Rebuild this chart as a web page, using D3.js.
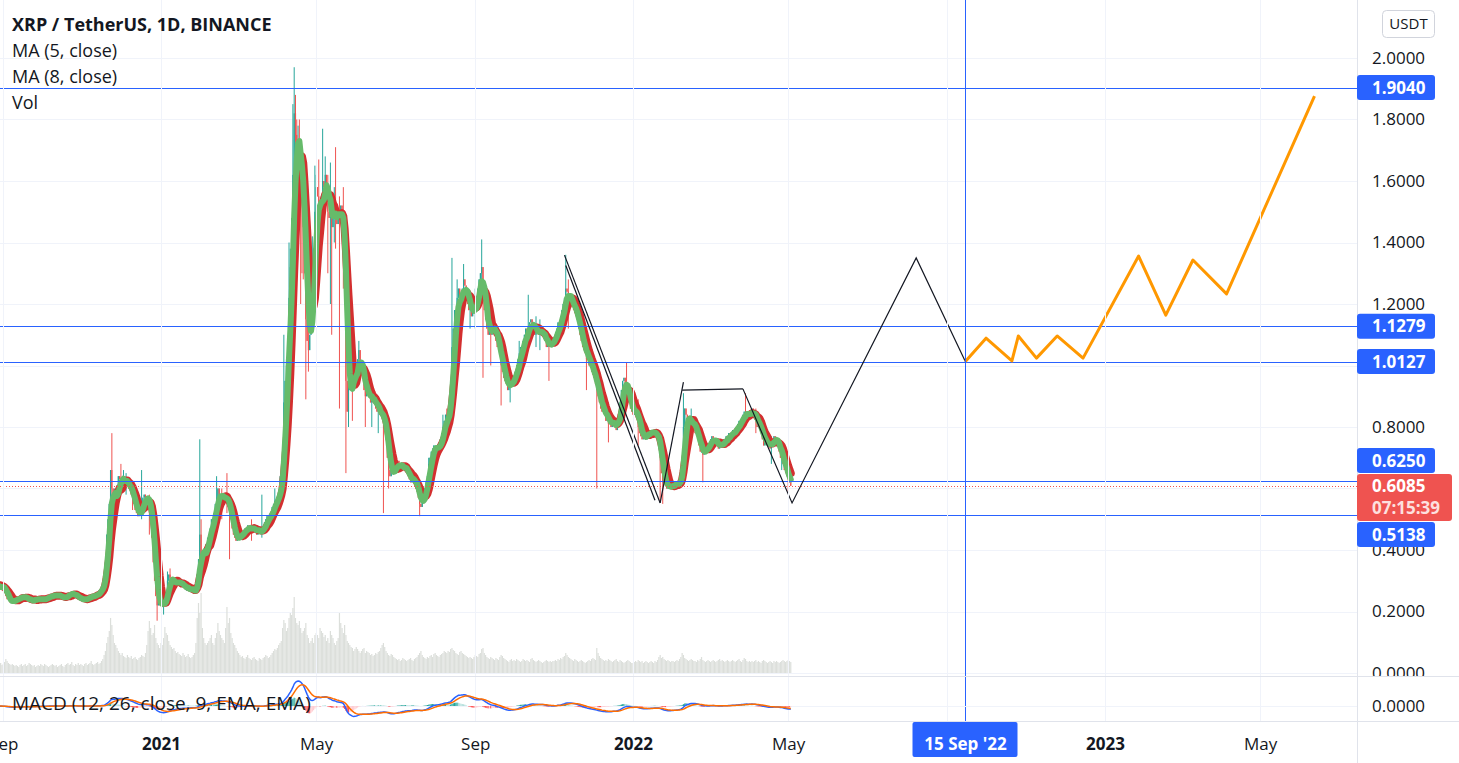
<!DOCTYPE html>
<html><head><meta charset="utf-8">
<script src="https://cdn.jsdelivr.net/npm/d3@7"></script>
<style>
body{margin:0;background:#fff;overflow:hidden}
svg{display:block}
text{font-family:"Open Sans","Noto Sans",sans-serif}
</style>
</head><body>
<svg id="c" width="1459" height="763"></svg>
<script>
// ---------------- DATA ----------------
// daily closes (USDT), each row: first date, then consecutive daily values
const closeRows = [
 ["2020-08-20",[0.29,0.29,0.28,0.29,0.30,0.29,0.28,0.28,0.28,0.28,0.28,0.28]],
 ["2020-09-01",[0.28,0.27,0.25,0.24,0.24,0.23,0.23,0.23,0.24,0.24,0.24,0.24,0.24,0.25,0.25,0.25,0.24,0.24,0.25,0.24,0.23,0.24,0.23,0.24,0.24,0.24,0.24,0.24,0.24,0.24]],
 ["2020-10-01",[0.24,0.24,0.24,0.24,0.25,0.25,0.25,0.25,0.25,0.25,0.26,0.25,0.25,0.25,0.25,0.25,0.24,0.24,0.25,0.25,0.26,0.26,0.25,0.26,0.26,0.25,0.25,0.25,0.24,0.24,0.24]],
 ["2020-11-01",[0.24,0.24,0.24,0.24,0.24,0.25,0.25,0.25,0.25,0.25,0.25,0.26,0.26,0.26,0.27,0.28,0.29,0.31,0.36,0.45,0.50,0.55,0.66,0.60,0.54,0.55,0.58,0.61,0.64,0.63]],
 ["2020-12-01",[0.62,0.63,0.64,0.61,0.62,0.62,0.60,0.60,0.58,0.57,0.55,0.53,0.52,0.51,0.52,0.52,0.54,0.57,0.58,0.57,0.56,0.56,0.55,0.50,0.44,0.36,0.30,0.25,0.22,0.23,0.22]],
 ["2021-01-01",[0.23,0.22,0.23,0.23,0.25,0.30,0.32,0.31,0.30,0.29,0.29,0.29,0.30,0.30,0.29,0.29,0.28,0.29,0.28,0.27,0.27,0.28,0.27,0.27,0.27,0.27,0.26,0.27,0.32,0.37,0.45]],
 ["2021-02-01",[0.38,0.37,0.38,0.40,0.42,0.44,0.45,0.47,0.50,0.49,0.52,0.55,0.57,0.60,0.58,0.57,0.56,0.57,0.58,0.57,0.56,0.54,0.52,0.50,0.47,0.45,0.44,0.43]],
 ["2021-03-01",[0.44,0.44,0.45,0.46,0.45,0.46,0.47,0.47,0.48,0.47,0.47,0.46,0.47,0.48,0.46,0.45,0.46,0.47,0.46,0.46,0.47,0.49,0.50,0.51,0.50,0.51,0.52,0.54,0.55,0.56,0.56]],
 ["2021-04-01",[0.57,0.59,0.61,0.64,0.70,0.88,0.95,1.00,1.08,1.22,1.32,1.45,1.62,1.82,1.75,1.70,1.72,1.66,1.62,1.55,1.45,1.30,1.15,1.08,1.05,1.10,1.18,1.30,1.38,1.50]],
 ["2021-05-01",[1.58,1.55,1.52,1.45,1.55,1.60,1.58,1.62,1.58,1.50,1.48,1.52,1.45,1.48,1.52,1.50,1.46,1.50,1.48,1.52,1.50,1.40,1.20,0.95,0.85,0.92,0.95,0.98,0.92,0.95,0.98]],
 ["2021-06-01",[1.00,1.02,1.05,1.00,0.98,0.96,0.92,0.90,0.92,0.91,0.90,0.88,0.89,0.88,0.90,0.86,0.85,0.86,0.84,0.84,0.83,0.82,0.80,0.76,0.70,0.66,0.64,0.66,0.65,0.66]],
 ["2021-07-01",[0.67,0.68,0.69,0.67,0.66,0.68,0.67,0.66,0.67,0.65,0.64,0.63,0.62,0.63,0.64,0.62,0.60,0.59,0.57,0.55,0.54,0.56,0.58,0.60,0.62,0.64,0.68,0.70,0.72,0.73,0.74]],
 ["2021-08-01",[0.74,0.73,0.72,0.74,0.76,0.78,0.80,0.82,0.84,0.82,0.84,0.86,0.95,1.06,1.12,1.18,1.18,1.22,1.25,1.20,1.22,1.25,1.28,1.26,1.22,1.20,1.18,1.20,1.16,1.18,1.17]],
 ["2021-09-01",[1.20,1.22,1.25,1.28,1.30,1.32,1.20,1.18,1.15,1.12,1.10,1.12,1.10,1.12,1.14,1.12,1.08,1.06,1.05,1.04,1.00,0.98,0.96,0.95,0.94,0.92,0.93,0.94,0.96,0.96]],
 ["2021-10-01",[0.95,0.98,1.00,1.02,1.04,1.06,1.05,1.08,1.10,1.12,1.10,1.12,1.14,1.15,1.13,1.12,1.10,1.12,1.11,1.10,1.12,1.10,1.11,1.09,1.08,1.06,1.07,1.06,1.08,1.07,1.08]],
 ["2021-11-01",[1.09,1.10,1.12,1.14,1.13,1.15,1.18,1.20,1.22,1.25,1.24,1.22,1.20,1.22,1.20,1.18,1.17,1.16,1.15,1.12,1.10,1.08,1.06,1.05,1.04,1.02,1.03,1.00,1.00,0.98]],
 ["2021-12-01",[0.97,0.96,0.94,0.92,0.90,0.88,0.86,0.85,0.86,0.84,0.82,0.83,0.81,0.82,0.80,0.81,0.83,0.80,0.79,0.82,0.84,0.88,0.92,0.95,0.96,0.94,0.92,0.90,0.88,0.86,0.85]],
 ["2022-01-01",[0.84,0.85,0.86,0.84,0.80,0.78,0.77,0.76,0.78,0.77,0.76,0.78,0.79,0.78,0.79,0.77,0.78,0.79,0.77,0.76,0.74,0.70,0.65,0.62,0.62,0.61,0.60,0.61,0.60,0.61,0.61]],
 ["2022-02-01",[0.61,0.61,0.62,0.62,0.61,0.62,0.64,0.70,0.80,0.86,0.84,0.82,0.80,0.82,0.83,0.81,0.80,0.78,0.78,0.76,0.74,0.72,0.72,0.71,0.72,0.73,0.74,0.74]],
 ["2022-03-01",[0.74,0.76,0.77,0.76,0.75,0.74,0.75,0.73,0.74,0.75,0.74,0.76,0.75,0.77,0.76,0.78,0.77,0.78,0.79,0.78,0.79,0.80,0.81,0.82,0.81,0.83,0.84,0.85,0.84,0.85,0.83]],
 ["2022-04-01",[0.84,0.85,0.86,0.84,0.83,0.82,0.80,0.81,0.80,0.78,0.76,0.74,0.75,0.76,0.74,0.74,0.73,0.75,0.76,0.77,0.76,0.75,0.74,0.72,0.70,0.71,0.68,0.66,0.65,0.64]],
 ["2022-05-01",[0.63,0.62,0.6085]]
];
// daily volume (relative units)
const volumeRows = [
 ["2020-08-20",[9,8,7,8,10,8,7,8,9,12,10,8]],
 ["2020-09-01",[9,11,14,12,10,9,8,9,8,7,8,7,6,8,9,7,8,9,7,8,10,9,8,7,8,6,7,8,7,9]],
 ["2020-10-01",[8,7,9,8,7,6,7,8,9,8,7,8,6,7,8,9,7,6,8,9,10,8,9,11,8,7,9,8,10,8,9]],
 ["2020-11-01",[8,7,9,10,8,9,10,12,9,8,9,10,11,9,10,12,14,18,22,30,36,42,55,48,38,30,28,25,22,20]],
 ["2020-12-01",[18,20,17,16,15,18,16,15,17,14,15,16,14,13,15,16,18,17,16,20,28,42,52,45,38,40,48,35,30,28,25]],
 ["2021-01-01",[30,28,35,46,40,38,32,28,26,24,25,22,20,21,19,18,17,20,18,16,17,19,16,15,16,18,20,30,55,70,60]],
 ["2021-02-01",[80,45,35,30,28,30,32,35,38,30,28,35,40,50,42,38,35,33,30,45,66,50,55,40,35,30,28,25]],
 ["2021-03-01",[22,20,18,16,17,15,14,16,18,15,14,13,15,16,14,13,12,15,14,13,15,16,18,17,15,16,18,20,22,24,23]],
 ["2021-04-01",[25,28,30,32,45,53,50,42,45,55,60,58,65,76,55,50,48,52,45,40,42,45,50,38,35,30,32,35,30,38]],
 ["2021-05-01",[40,38,35,45,42,40,36,38,32,35,30,42,38,35,30,28,32,35,60,50,45,40,48,38,32,30,28,26,25,22,24]],
 ["2021-06-01",[26,24,22,20,22,24,25,20,22,21,20,18,19,17,18,20,19,21,22,25,28,30,26,22,20,18,17,19,18,16]],
 ["2021-07-01",[15,14,13,14,12,13,15,14,13,12,13,14,15,13,12,14,15,16,18,20,22,18,16,15,14,16,15,17,18,16,19]],
 ["2021-08-01",[20,18,17,16,18,19,20,22,21,20,22,21,24,25,23,22,20,19,18,21,22,20,19,18,17,16,15,16,15,14,16]],
 ["2021-09-01",[18,17,16,19,20,24,25,20,18,16,15,14,16,15,14,13,15,14,13,16,18,17,15,14,13,12,11,13,14,12]],
 ["2021-10-01",[13,12,14,13,12,11,12,14,13,12,13,12,11,14,15,13,12,11,12,13,12,11,10,11,12,13,12,11,12,11,12]],
 ["2021-11-01",[12,13,12,14,13,15,14,16,17,20,18,16,15,14,13,12,14,13,12,11,12,13,12,11,10,11,12,13,12,14]],
 ["2021-12-01",[15,14,13,25,20,17,15,14,13,12,13,12,14,13,12,11,12,13,14,12,11,13,12,11,10,11,12,13,12,11,10]],
 ["2022-01-01",[10,11,12,11,13,12,11,12,10,11,12,11,10,11,12,11,10,12,11,13,16,18,15,16,14,13,12,13,12,11,12]],
 ["2022-02-01",[12,11,12,13,12,14,16,20,18,15,14,13,12,13,14,13,12,12,11,13,12,14,16,13,12,11,12,13]],
 ["2022-03-01",[12,11,12,13,12,11,12,13,14,12,13,12,11,12,13,12,11,12,13,12,11,12,13,14,12,11,13,15,14,12,11]],
 ["2022-04-01",[12,11,12,11,12,13,11,12,11,10,12,13,12,11,10,11,12,11,10,12,11,12,11,10,11,12,13,12,11,12]],
 ["2022-05-01",[13,12,11]]
];
// candle wicks: [date, high, low]
const wickRows = [
 ["2020-11-24",0.78,0.52],["2020-11-26",0.60,0.47],["2020-12-01",0.68,0.58],["2020-12-03",0.66,0.60],
 ["2020-12-05",0.65,0.58],["2020-12-10",0.60,0.53],["2020-12-17",0.66,0.50],["2020-12-23",0.58,0.45],
 ["2020-12-29",0.24,0.17],["2021-01-03",0.24,0.19],["2021-01-06",0.33,0.24],["2021-01-08",0.34,0.28],
 ["2021-01-31",0.76,0.36],["2021-02-01",0.50,0.35],["2021-02-13",0.64,0.53],["2021-02-17",0.60,0.50],
 ["2021-02-21",0.65,0.52],["2021-02-23",0.55,0.37],["2021-03-12",0.50,0.43],["2021-03-20",0.58,0.44],
 ["2021-03-30",0.60,0.52],["2021-04-03",0.64,0.58],["2021-04-06",1.10,0.70],["2021-04-08",1.02,0.88],
 ["2021-04-10",1.40,1.05],["2021-04-11",1.38,1.18],["2021-04-12",1.48,1.25],["2021-04-13",1.85,1.40],
 ["2021-04-14",1.97,1.60],["2021-04-15",1.88,1.55],["2021-04-16",1.80,1.55],["2021-04-17",1.78,1.45],
 ["2021-04-18",1.80,1.45],["2021-04-19",1.70,1.20],["2021-04-20",1.60,1.30],["2021-04-21",1.62,1.28],
 ["2021-04-23",1.30,0.89],["2021-04-25",1.15,0.98],["2021-04-28",1.42,1.20],["2021-04-30",1.65,1.35],
 ["2021-05-01",1.62,1.45],["2021-05-03",1.67,1.42],["2021-05-06",1.77,1.48],["2021-05-08",1.68,1.50],
 ["2021-05-10",1.62,1.30],["2021-05-12",1.66,1.20],["2021-05-13",1.55,1.10],["2021-05-15",1.58,1.40],
 ["2021-05-16",1.71,1.38],["2021-05-19",1.55,0.86],["2021-05-22",1.58,1.25],["2021-05-24",1.22,0.65],
 ["2021-05-26",1.05,0.80],["2021-05-29",1.00,0.82],["2021-06-03",1.08,0.95],["2021-06-08",0.95,0.80],
 ["2021-06-13",0.92,0.80],["2021-06-18",0.90,0.78],["2021-06-22",0.85,0.52],["2021-06-26",0.72,0.60],
 ["2021-07-20",0.60,0.51],["2021-07-27",0.70,0.60],["2021-08-07",0.84,0.77],["2021-08-10",0.86,0.78],
 ["2021-08-14",1.35,1.02],["2021-08-18",1.28,1.10],["2021-08-23",1.33,1.20],["2021-08-28",1.24,1.12],
 ["2021-09-01",1.25,1.12],["2021-09-06",1.41,1.25],["2021-09-07",1.32,0.96],["2021-09-13",1.16,1.00],
 ["2021-09-21",1.06,0.87],["2021-09-28",0.98,0.88],["2021-10-05",1.08,0.98],["2021-10-12",1.23,1.06],
 ["2021-10-18",1.16,1.06],["2021-10-21",1.15,1.05],["2021-10-28",1.10,0.95],["2021-11-10",1.36,1.18],
 ["2021-11-12",1.28,1.12],["2021-11-26",1.08,0.92],["2021-12-04",1.00,0.60],["2021-12-13",0.88,0.75],
 ["2021-12-27",1.01,0.90],["2022-01-05",0.89,0.74],["2022-01-22",0.72,0.56],["2022-01-24",0.65,0.55],
 ["2022-02-09",0.91,0.79],["2022-02-15",0.86,0.76],["2022-02-24",0.76,0.62],["2022-03-29",0.91,0.82],
 ["2022-04-06",0.86,0.78],["2022-04-18",0.77,0.68],["2022-04-26",0.74,0.66],["2022-05-01",0.65,0.59]
];
const levelLines = [1.904, 1.1279, 1.0127, 0.625, 0.5138];
const lastPrice = 0.6085;
const countdown = "07:15:39";
const priceTicks = [0,0.2,0.4,0.6,0.8,1.0,1.2,1.4,1.6,1.8,2.0];
const priceTickLabels = ["0.0000","0.2000","0.4000","","0.8000","","1.2000","1.4000","1.6000","1.8000","2.0000"];
const timeTickDates = ["2020-09-01","2021-01-01","2021-05-01","2021-09-01","2022-01-01","2022-05-01","2022-09-01","2023-01-01","2023-05-01"];
const timeTickLabels = ["Sep","2021","May","Sep","2022","May","","2023","May"];
const markerDate = "2022-09-15";
const markerLabel = "15 Sep '22";
const trendLines = [
 [["2021-11-09",1.359],["2022-01-22",0.553]],
 [["2021-11-10",1.325],["2022-01-18",0.562]],
 [["2022-01-22",0.553],["2022-02-09",0.946]],
 [["2022-02-08",0.920],["2022-03-27",0.924]],
 [["2022-03-27",0.924],["2022-05-04",0.553],["2022-08-08",1.350],["2022-09-15",1.0127]]
];
const projection = [["2022-09-15",1.0127],["2022-10-01",1.089],["2022-10-21",1.015],["2022-10-26",1.096],["2022-11-09",1.024],["2022-11-25",1.096],["2022-12-15",1.024],["2022-12-24",1.093],["2023-01-27",1.356],["2023-02-17",1.164],["2023-03-10",1.343],["2023-04-05",1.233],["2023-06-12",1.876]];
const legendLines = ["XRP / TetherUS, 1D, BINANCE","MA (5, close)","MA (8, close)","Vol"];
const macdLabel = "MACD (12, 26, close, 9, EMA, EMA)";

// ---------------- LAYOUT ----------------
const W=1459,H=763,PR=1357,PB=676,MT=677,MB=721;
const parse=d3.utcParse("%Y-%m-%d");
function expand(rows){const out=[];rows.forEach(([s,vals])=>{const d0=parse(s);vals.forEach((v,i)=>out.push({date:d3.utcDay.offset(d0,i),v}));});return out;}
const closes=expand(closeRows), vols=expand(volumeRows);
const wickMap=new Map(wickRows.map(r=>[r[0],r]));
const fmtD=d3.utcFormat("%Y-%m-%d");

const x=d3.scaleUtc().domain([parse("2021-01-01"),parse("2022-01-01")]).range([161,633]);
const y=d3.scaleLinear().domain([0,2]).range([673,58]);
const yv=d3.scaleLinear().domain([0,100]).range([673,573]);

const bars=closes.map((c,i)=>{const o=i?closes[i-1].v:c.v;const w=wickMap.get(fmtD(c.date));
 let hi=Math.max(o,c.v),lo=Math.min(o,c.v); if(w){hi=Math.max(hi,w[1]);lo=Math.min(lo,w[2]);}
 return {date:c.date,o,c:c.v,hi,lo,up:c.v>=o};});
function sma(n){return closes.map((d,i)=>i<n-1?null:{date:d.date,v:d3.mean(closes.slice(i-n+1,i+1),e=>e.v)}).filter(Boolean);}
function ema(arr,n){const k=2/(n+1);let p=arr[0];return arr.map((v,i)=>(p=i?v*k+p*(1-k):v));}
const cv=closes.map(d=>d.v);
const e12=ema(cv,12),e26=ema(cv,26);
const macd=cv.map((_,i)=>e12[i]-e26[i]);
const sig=ema(macd,9);
const hist=macd.map((m,i)=>m-sig[i]);

const svg=d3.select("#c");
svg.append("rect").attr("width",W).attr("height",H).attr("fill","#fff");
const defs=svg.append("defs");
defs.append("clipPath").attr("id","cp").append("rect").attr("x",0).attr("y",0).attr("width",PR).attr("height",PB);
defs.append("clipPath").attr("id","cm").append("rect").attr("x",0).attr("y",MT).attr("width",PR).attr("height",MB-MT);
defs.append("clipPath").attr("id","ca").append("rect").attr("x",PR).attr("y",0).attr("width",W-PR).attr("height",PB);

const gP=svg.append("g").attr("clip-path","url(#cp)");
// grid
gP.selectAll(".hg").data(priceTicks).join("line").attr("x1",0).attr("x2",PR).attr("y1",d=>Math.round(y(d))+0.5).attr("y2",d=>Math.round(y(d))+0.5).attr("stroke","#f0f3fa");
const tDates=timeTickDates.map(parse);
svg.append("g").selectAll("line").data(tDates).join("line").attr("x1",d=>Math.round(x(d))+0.5).attr("x2",d=>Math.round(x(d))+0.5).attr("y1",0).attr("y2",MB).attr("stroke","#f0f3fa");

// volume
gP.append("g").selectAll("rect").data(vols).join("rect")
 .attr("x",d=>x(d.date)-0.6).attr("width",1.2).attr("y",d=>yv(d.v)).attr("height",d=>yv(0)-yv(d.v))
 .attr("fill","#dcdfdb");
// candles
const gc=gP.append("g");
gc.selectAll("line").data(bars).join("line")
 .attr("x1",d=>x(d.date)).attr("x2",d=>x(d.date)).attr("y1",d=>y(d.hi)).attr("y2",d=>y(d.lo))
 .attr("stroke",d=>d.up?"#26a69a":"#ef5350").attr("stroke-width",1);
gc.selectAll("rect").data(bars).join("rect")
 .attr("x",d=>x(d.date)-0.6).attr("width",1.2)
 .attr("y",d=>y(Math.max(d.o,d.c))).attr("height",d=>Math.max(1,y(Math.min(d.o,d.c))-y(Math.max(d.o,d.c))))
 .attr("fill",d=>d.up?"#26a69a":"#ef5350");
// MAs
const line=d3.line().x(d=>x(d.date)).y(d=>y(d.v)).curve(d3.curveLinear);
gP.append("path").datum(sma(8)).attr("d",line).attr("fill","none").attr("stroke","#d32f2f").attr("stroke-width",8).attr("stroke-linejoin","round").attr("stroke-linecap","round");
gP.append("path").datum(sma(5)).attr("d",line).attr("fill","none").attr("stroke","#66bb6a").attr("stroke-width",6).attr("stroke-linejoin","round").attr("stroke-linecap","round");

// level lines
gP.selectAll(".lv").data(levelLines).join("line").attr("x1",0).attr("x2",PR)
 .attr("y1",d=>Math.round(y(d))+0.5).attr("y2",d=>Math.round(y(d))+0.5).attr("stroke","#2962ff").attr("stroke-width",1);
gP.append("line").attr("x1",0).attr("x2",PR).attr("y1",Math.round(y(lastPrice))+0.5).attr("y2",Math.round(y(lastPrice))+0.5)
 .attr("stroke","#ef5350").attr("stroke-dasharray","1,2");
// drawings
const dl=d3.line().x(d=>x(parse(d[0]))).y(d=>y(d[1]));
trendLines.forEach(t=>gP.append("path").attr("d",dl(t)).attr("fill","none").attr("stroke","#131722").attr("stroke-width",1.2));
gP.append("path").attr("d",dl(projection)).attr("fill","none").attr("stroke","#ff9800").attr("stroke-width",3).attr("stroke-linejoin","round");
// marker vertical line
const mx=Math.round(x(parse(markerDate)))+0.5;
svg.append("line").attr("x1",mx).attr("x2",mx).attr("y1",0).attr("y2",MB).attr("stroke","#2962ff");

// legend
const lg=svg.append("g").attr("fill","#131722").attr("font-size",18);
legendLines.forEach((t,i)=>lg.append("text").attr("x",12).attr("y",31+i*26).attr("font-weight",i===0?700:400).text(t));

// MACD pane
const mMax=d3.max(macd.concat(sig));
const ym=d3.scaleLinear().domain([0,mMax]).range([706,681]);
const gM=svg.append("g").attr("clip-path","url(#cm)");
gM.append("line").attr("x1",0).attr("x2",PR).attr("y1",706.5).attr("y2",706.5).attr("stroke","#f0f3fa");
gM.append("g").selectAll("rect").data(hist.map((h,i)=>({h,i,date:closes[i].date}))).join("rect")
 .attr("x",d=>x(d.date)-0.6).attr("width",1.2)
 .attr("y",d=>Math.min(ym(d.h),ym(0))).attr("height",d=>Math.abs(ym(d.h)-ym(0)))
 .attr("fill",d=>{const p=d.i?hist[d.i-1]:0;return d.h>=0?(d.h>=p?"#26a69a":"#b2dfdb"):(d.h<p?"#ff5252":"#ffcdd2");});
const ml=d3.line().x((d,i)=>x(closes[i].date)).y(d=>ym(d));
gM.append("path").datum(macd).attr("d",ml).attr("fill","none").attr("stroke","#2962ff").attr("stroke-width",1.5);
gM.append("path").datum(sig).attr("d",ml).attr("fill","none").attr("stroke","#ff6d00").attr("stroke-width",1.5);
svg.append("text").attr("x",12).attr("y",710).attr("font-size",19).attr("fill","#131722").text(macdLabel);

// separators
svg.append("line").attr("x1",0).attr("x2",W).attr("y1",676.5).attr("y2",676.5).attr("stroke","#e0e3eb");
svg.append("line").attr("x1",0).attr("x2",W).attr("y1",721.5).attr("y2",721.5).attr("stroke","#e0e3eb");
svg.append("line").attr("x1",PR+0.5).attr("x2",PR+0.5).attr("y1",0).attr("y2",H).attr("stroke","#e0e3eb");

// right price axis
const ax=svg.append("g").attr("clip-path","url(#ca)").append("g").attr("transform",`translate(${PR},0)`)
 .call(d3.axisRight(y).tickValues(priceTicks).tickFormat((d,i)=>priceTickLabels[i]).tickSize(0).tickPadding(15));
ax.select(".domain").remove();
ax.selectAll("text").attr("font-size",17).attr("fill","#131722").attr("font-family","Open Sans");
const axm=svg.append("g").attr("transform",`translate(${PR},0)`)
 .call(d3.axisRight(ym).tickValues([0]).tickFormat(d3.format(".4f")).tickSize(0).tickPadding(15));
axm.select(".domain").remove();
axm.selectAll("text").attr("font-size",17).attr("fill","#131722").attr("font-family","Open Sans");

// USDT box
svg.append("rect").attr("x",1382.5).attr("y",10.5).attr("width",52).attr("height",27).attr("rx",4).attr("fill","#fff").attr("stroke","#d1d4dc");
svg.append("text").attr("x",1408.5).attr("y",24).attr("dy","0.35em").attr("text-anchor","middle").attr("font-size",15).attr("fill","#131722").text("USDT");

// badges
const ly=y(lastPrice), redTop=ly-12, redBot=ly+35;
const badges=levelLines.map(v=>{let c=y(v);if(c+12.5>redTop&&c-12.5<redBot){c=c<ly?redTop-13.5:redBot+13.5;}return {v,c};});
const bg=svg.append("g");
bg.selectAll("rect").data(badges).join("rect").attr("x",PR).attr("y",d=>d.c-12.5).attr("width",78).attr("height",25).attr("rx",3).attr("fill","#2962ff");
bg.selectAll("text").data(badges).join("text").attr("x",1372).attr("y",d=>d.c).attr("dy","0.36em").attr("font-size",17).attr("font-weight",700).attr("fill","#fff").text(d=>d3.format(".4f")(d.v));
svg.append("rect").attr("x",PR).attr("y",redTop).attr("width",95).attr("height",47).attr("rx",3).attr("fill","#ef5350");
svg.append("text").attr("x",1372).attr("y",ly).attr("dy","0.36em").attr("font-size",17).attr("font-weight",700).attr("fill","#fff").text(d3.format(".4f")(lastPrice));
svg.append("text").attr("x",1372).attr("y",ly+22).attr("dy","0.36em").attr("font-size",17).attr("font-weight",700).attr("fill","#fde0df").text(countdown);

// time axis
const tx=svg.append("g").attr("transform",`translate(0,${MB})`)
 .call(d3.axisBottom(x).tickValues(tDates).tickFormat((d,i)=>timeTickLabels[i]).tickSize(0));
tx.select(".domain").remove();
tx.selectAll("text").attr("y",23).attr("dy","0.35em").attr("font-size",17).attr("fill","#131722").attr("font-family","Open Sans")
 .attr("font-weight",(d,i)=>/^\d{4}$/.test(timeTickLabels[i])?700:400);
svg.append("rect").attr("x",mx-53).attr("y",722).attr("width",105).attr("height",35).attr("rx",2).attr("fill","#2962ff");
svg.append("text").attr("x",mx).attr("y",744).attr("dy","0.35em").attr("text-anchor","middle").attr("font-size",17).attr("font-weight",700).attr("fill","#fff").text(markerLabel);
</script>
</body></html>
